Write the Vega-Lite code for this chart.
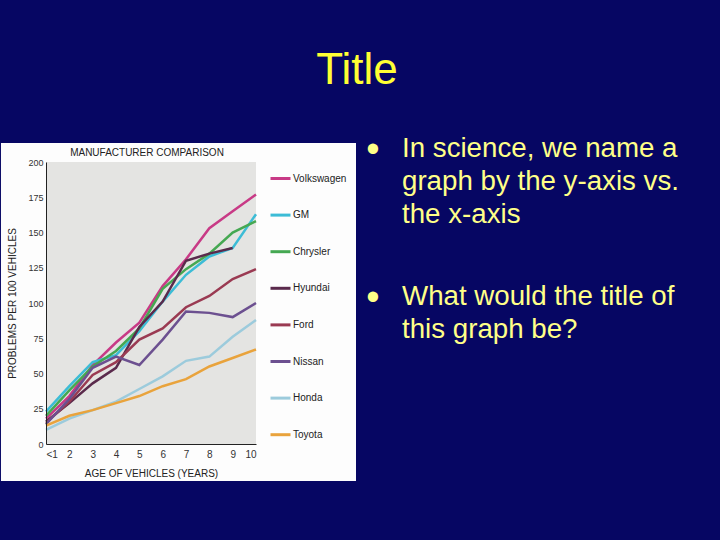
{
  "$schema": "https://vega.github.io/schema/vega-lite/v6.json",
  "background": "#060663",
  "padding": {"left": 0, "top": 48, "right": 41, "bottom": 59},
  "autosize": {"type": "pad"},
  "bounds": "flush",
  "spacing": 46,
  "title": {"text": "Title", "color": "#ffff33", "font": "Liberation Sans", "fontSize": 44, "fontWeight": "normal", "anchor": "middle", "frame": "bounds", "baseline": "alphabetic", "offset": 4, "dx": 17},
  "config": {"view": {"stroke": null}, "font": "Liberation Sans", "axis": {"labelOverlap": false, "labelSeparation": 0}},
  "hconcat": [
    {
      "width": 210,
      "height": 282,
      "title": {"text": "MANUFACTURER COMPARISON", "fontSize": 10, "fontWeight": "normal", "color": "#222222", "anchor": "middle", "frame": "group", "baseline": "alphabetic", "offset": -23, "dx": -4},
      "layer": [
        {
          "data": {"values": [{"panel": "white"}]},
          "mark": {"type": "rect", "fill": "#fdfdfd"},
          "encoding": {
            "x": {"datum": -0.93, "type": "quantitative", "scale": {"domain": [1, 10], "nice": false, "zero": false}},
            "x2": {"datum": 14.286},
            "y": {"datum": -26.2, "type": "quantitative", "scale": {"domain": [0, 200], "nice": false, "zero": false}},
            "y2": {"datum": 213.5}
          }
        },
        {
          "data": {"values": [{"panel": "plot"}]},
          "mark": {"type": "rect", "fill": "#e4e4e2"},
          "encoding": {
            "x": {"datum": 1, "type": "quantitative"},
            "x2": {"datum": 10},
            "y": {"datum": 0, "type": "quantitative"},
            "y2": {"datum": 200}
          }
        },
        {
          "data": {"values": [
            {"m": "Volkswagen", "a": 1, "v": 18}, {"m": "Volkswagen", "a": 2, "v": 34}, {"m": "Volkswagen", "a": 3, "v": 56}, {"m": "Volkswagen", "a": 4, "v": 72}, {"m": "Volkswagen", "a": 5, "v": 86}, {"m": "Volkswagen", "a": 6, "v": 112}, {"m": "Volkswagen", "a": 7, "v": 131}, {"m": "Volkswagen", "a": 8, "v": 153}, {"m": "Volkswagen", "a": 9, "v": 165}, {"m": "Volkswagen", "a": 10, "v": 177},
            {"m": "GM", "a": 1, "v": 23}, {"m": "GM", "a": 2, "v": 41}, {"m": "GM", "a": 3, "v": 58}, {"m": "GM", "a": 4, "v": 63}, {"m": "GM", "a": 5, "v": 80}, {"m": "GM", "a": 6, "v": 101}, {"m": "GM", "a": 7, "v": 120}, {"m": "GM", "a": 8, "v": 133}, {"m": "GM", "a": 9, "v": 139}, {"m": "GM", "a": 10, "v": 163},
            {"m": "Chrysler", "a": 1, "v": 20}, {"m": "Chrysler", "a": 2, "v": 38}, {"m": "Chrysler", "a": 3, "v": 55}, {"m": "Chrysler", "a": 4, "v": 66}, {"m": "Chrysler", "a": 5, "v": 82}, {"m": "Chrysler", "a": 6, "v": 110}, {"m": "Chrysler", "a": 7, "v": 124}, {"m": "Chrysler", "a": 8, "v": 135}, {"m": "Chrysler", "a": 9, "v": 150}, {"m": "Chrysler", "a": 10, "v": 158},
            {"m": "Hyundai", "a": 1, "v": 16}, {"m": "Hyundai", "a": 2, "v": 29}, {"m": "Hyundai", "a": 3, "v": 43}, {"m": "Hyundai", "a": 4, "v": 54}, {"m": "Hyundai", "a": 5, "v": 83}, {"m": "Hyundai", "a": 6, "v": 101}, {"m": "Hyundai", "a": 7, "v": 130}, {"m": "Hyundai", "a": 8, "v": 135}, {"m": "Hyundai", "a": 9, "v": 139},
            {"m": "Ford", "a": 1, "v": 15}, {"m": "Ford", "a": 2, "v": 30}, {"m": "Ford", "a": 3, "v": 49}, {"m": "Ford", "a": 4, "v": 58}, {"m": "Ford", "a": 5, "v": 74}, {"m": "Ford", "a": 6, "v": 82}, {"m": "Ford", "a": 7, "v": 97}, {"m": "Ford", "a": 8, "v": 105}, {"m": "Ford", "a": 9, "v": 117}, {"m": "Ford", "a": 10, "v": 124},
            {"m": "Nissan", "a": 1, "v": 14}, {"m": "Nissan", "a": 2, "v": 32}, {"m": "Nissan", "a": 3, "v": 54}, {"m": "Nissan", "a": 4, "v": 62}, {"m": "Nissan", "a": 5, "v": 56}, {"m": "Nissan", "a": 6, "v": 74}, {"m": "Nissan", "a": 7, "v": 94}, {"m": "Nissan", "a": 8, "v": 93}, {"m": "Nissan", "a": 9, "v": 90}, {"m": "Nissan", "a": 10, "v": 100},
            {"m": "Honda", "a": 1, "v": 10}, {"m": "Honda", "a": 2, "v": 18}, {"m": "Honda", "a": 3, "v": 24}, {"m": "Honda", "a": 4, "v": 30}, {"m": "Honda", "a": 5, "v": 39}, {"m": "Honda", "a": 6, "v": 48}, {"m": "Honda", "a": 7, "v": 59}, {"m": "Honda", "a": 8, "v": 62}, {"m": "Honda", "a": 9, "v": 76}, {"m": "Honda", "a": 10, "v": 88},
            {"m": "Toyota", "a": 1, "v": 13}, {"m": "Toyota", "a": 2, "v": 20}, {"m": "Toyota", "a": 3, "v": 24}, {"m": "Toyota", "a": 4, "v": 29}, {"m": "Toyota", "a": 5, "v": 34}, {"m": "Toyota", "a": 6, "v": 41}, {"m": "Toyota", "a": 7, "v": 46}, {"m": "Toyota", "a": 8, "v": 55}, {"m": "Toyota", "a": 9, "v": 61}, {"m": "Toyota", "a": 10, "v": 67}
          ]},
          "mark": {"type": "line", "strokeWidth": 2.5},
          "encoding": {
            "x": {"field": "a", "type": "quantitative", "title": "AGE OF VEHICLES (YEARS)",
              "axis": {"values": [1, 2, 3, 4, 5, 6, 7, 8, 9, 10], "tickCount": 20, "format": "d", "labelExpr": "datum.value == 1 ? '<1' : datum.label", "labelOverlap": false, "grid": false, "ticks": false, "domainColor": "#222222", "domainWidth": 1, "labelFontSize": 10, "labelColor": "#333333", "labelPadding": 5, "titleFontSize": 10, "titleFontWeight": "normal", "titleColor": "#222222", "titlePadding": 9, "zindex": 1}},
            "y": {"field": "v", "type": "quantitative", "title": "PROBLEMS PER 100 VEHICLES",
              "axis": {"values": [0, 25, 50, 75, 100, 125, 150, 175, 200], "tickCount": 20, "format": "d", "labelOverlap": false, "grid": false, "ticks": false, "domainColor": "#222222", "domainWidth": 1, "labelFontSize": 9, "labelColor": "#333333", "labelPadding": 3, "titleFontSize": 10, "titleFontWeight": "normal", "titleColor": "#222222", "titlePadding": 10, "zindex": 1}},
            "color": {"field": "m", "type": "nominal",
              "scale": {"domain": ["Volkswagen", "GM", "Chrysler", "Hyundai", "Ford", "Nissan", "Honda", "Toyota"], "range": ["#c83a86", "#3cbcd6", "#45a852", "#5a2a4c", "#9a3a52", "#6c5090", "#9ccbdc", "#e9a33c"]},
              "legend": {"orient": "none", "legendX": 223, "legendY": 5, "title": null, "symbolType": "stroke", "symbolSize": 400, "symbolStrokeWidth": 3, "labelFontSize": 10, "labelColor": "#222222", "labelOffset": 1, "rowPadding": 18.6, "padding": 0}}
          }
        }
      ]
    },
    {
      "width": 200,
      "height": 148,
      "data": {"values": [
        {"para": 1, "lines": ["In science, we name a", "graph by the y-axis vs.", "the x-axis"]},
        {"para": 2, "lines": ["What would the title of", "this graph be?"]}
      ]},
      "layer": [
        {
          "mark": {"type": "text", "align": "left", "baseline": "alphabetic", "fontSize": 27.7, "font": "Liberation Sans", "color": "#ffff88", "lineHeight": 33},
          "encoding": {
            "y": {"field": "para", "type": "quantitative", "scale": {"domain": [1.034, 2.034], "reverse": true, "nice": false, "zero": false}, "axis": null},
            "text": {"field": "lines"}
          }
        },
        {
          "mark": {"type": "text", "text": "•", "align": "center", "baseline": "alphabetic", "fontSize": 38, "font": "Liberation Sans", "color": "#ffff88", "dx": -29, "dy": 5},
          "encoding": {
            "y": {"field": "para", "type": "quantitative", "axis": null}
          }
        }
      ]
    }
  ]
}
